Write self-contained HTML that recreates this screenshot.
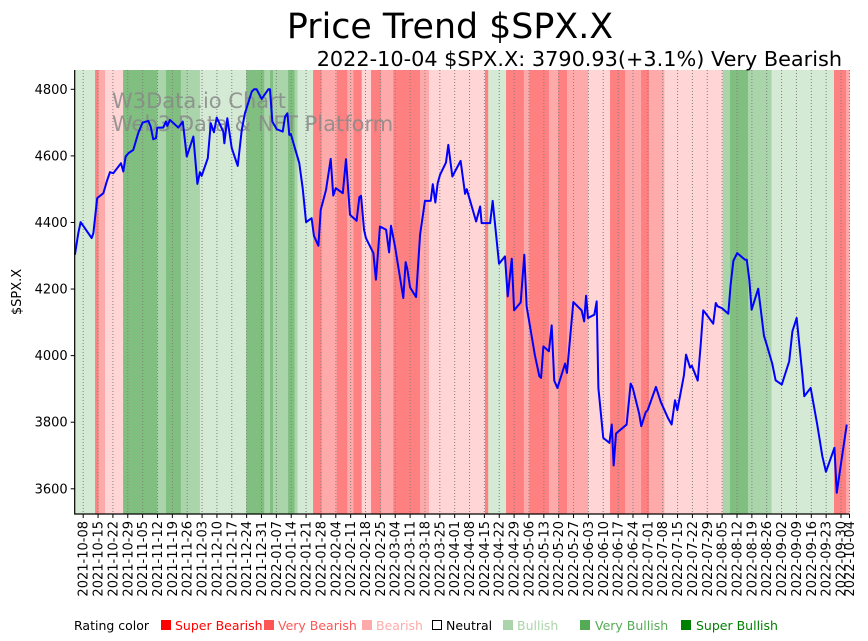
<!DOCTYPE html>
<html><head><meta charset="utf-8"><style>
body{margin:0;background:#fff;}
svg{display:block;font-family:"DejaVu Sans","Liberation Sans",sans-serif;}
</style></head><body>
<svg id="chart" width="868" height="641" viewBox="0 0 868 641" xmlns="http://www.w3.org/2000/svg">
<g id="bands"></g>
<g id="grid"></g>
<text x="112" y="108" font-size="21" fill="#888" fill-opacity="0.85">W3Data.io Chart</text>
<text x="112" y="131" font-size="21" fill="#888" fill-opacity="0.85">Web3 Data &amp; NFT Platform</text>
<path id="line" fill="none" stroke="#0000ff" stroke-width="2" stroke-linejoin="round"/>
<g id="axes"></g>
<text x="450" y="38" font-size="34.8" text-anchor="middle">Price Trend $SPX.X</text>
<text x="842" y="66" font-size="20.8" text-anchor="end">2022-10-04 $SPX.X: 3790.93(+3.1%) Very Bearish</text>
<text transform="translate(21,292) rotate(-90)" font-size="13" text-anchor="middle">$SPX.X</text>
<g id="legend" font-size="12.5">
<text x="74" y="630">Rating color</text>
<g><rect x="161" y="620" width="10" height="10" fill="#ff0000"/><text x="175" y="630" fill="#ff0000">Super Bearish</text></g>
<g><rect x="264" y="620" width="10" height="10" fill="#ff5555"/><text x="278" y="630" fill="#ff5555">Very Bearish</text></g>
<g><rect x="362" y="620" width="10" height="10" fill="#ffaaaa"/><text x="376" y="630" fill="#ffaaaa">Bearish</text></g>
<g><rect x="432.5" y="620.5" width="9" height="9" fill="none" stroke="#000"/><text x="446" y="630" fill="#000">Neutral</text></g>
<g><rect x="503" y="620" width="10" height="10" fill="#aad4aa"/><text x="517" y="630" fill="#aad4aa">Bullish</text></g>
<g><rect x="580" y="620" width="10" height="10" fill="#55aa55"/><text x="595" y="630" fill="#55aa55">Very Bullish</text></g>
<g><rect x="681" y="620" width="10" height="10" fill="#008000"/><text x="696" y="630" fill="#008000">Super Bullish</text></g>
</g>
</svg>
<script>
// days since 2021-10-04
const bandStarts = [0,9.6,11.2,14.3,22.8,38.9,43,50,59,80.8,89.3,92,93.4,100.5,103.6,105,112.3,116.3,123.4,128.4,131.3,135.2,139.6,144.2,150.1,162.7,166.9,193.3,194.8,203.2,211.6,214.2,223.4,227.8,231.9,241.9,252.2,259.3,266.8,270.6,277.8,305.3,308.7,317.2,328.3,357.7,363.4];
const bandRatings = [1,-3,-2,-1,3,2,3,2,1,3,2,3,2,3,2,1,-3,-2,-3,-2,-3,-1,-3,-2,-3,-2,-1,-3,1,-3,-2,-3,-2,-3,-2,-1,-3,-2,-3,-2,-1,2,3,2,1,-3,-2];
const priceDays = [0.1,1.7,2.8,8.0,8.8,10.6,13.5,15.1,16.6,18.2,21.8,22.9,24.0,25.3,27.6,30.0,32.0,34.7,35.8,37.0,38.3,38.9,41.7,43.0,43.6,44.9,48.8,50.9,52.8,55.9,57.8,59.0,59.8,62.7,64.1,65.6,66.9,70.0,70.5,71.9,74.0,76.8,78.7,80.2,83.4,84.5,85.7,88.1,91.2,92.0,93.1,95.2,98.0,99.1,100.2,101.1,101.8,105.8,107.4,109.0,111.6,112.7,114.8,115.9,118.4,120.6,121.8,123.0,126.3,127.8,129.7,132.8,134.1,134.9,136.3,137.2,140.7,141.9,143.8,146.7,148.1,149.0,150.9,154.8,155.9,156.7,158.0,160.8,162.7,165.0,167.7,168.7,169.9,171.0,172.1,174.9,176.0,177.9,181.8,183.9,184.7,189.1,191.0,191.7,195.7,196.9,199.9,202.7,204.0,205.9,207.0,210.1,211.8,212.9,216.8,218.9,219.7,220.8,223.4,224.7,225.9,227.4,231.0,231.9,234.9,238.8,240.0,240.9,241.8,244.8,245.9,246.7,249.0,251.9,253.0,253.9,255.0,260.0,261.9,262.9,265.9,266.9,269.0,269.9,273.8,276.1,279.6,281.2,282.8,283.9,287.0,288.0,289.9,290.7,293.5,294.9,296.1,297.7,300.8,302.0,302.9,304.8,307.9,309.0,310.3,312.1,315.8,316.6,317.8,318.9,322.0,324.7,326.0,328.6,330.2,333.1,336.6,338.1,340.1,342.8,343.7,346.7,349.8,352.2,353.9,357.9,359.0,361.0,363.7,364.9];
const priceValues = [4303,4368,4401,4353,4368,4473,4488,4523,4551,4548,4578,4553,4598,4608,4618,4670,4700,4705,4688,4650,4653,4685,4685,4703,4690,4708,4685,4703,4598,4658,4516,4551,4540,4593,4698,4671,4715,4673,4638,4713,4623,4570,4678,4728,4793,4800,4800,4771,4800,4800,4703,4680,4673,4718,4728,4663,4666,4578,4503,4401,4413,4360,4330,4438,4498,4591,4481,4503,4488,4590,4423,4405,4476,4480,4378,4353,4308,4228,4388,4378,4310,4390,4328,4173,4281,4260,4205,4176,4363,4465,4465,4515,4460,4518,4543,4580,4633,4538,4585,4486,4500,4403,4448,4398,4398,4465,4276,4298,4178,4291,4136,4160,4303,4148,4001,3938,3933,4028,4013,4091,3925,3903,3976,3948,4161,4136,4103,4180,4113,4123,4163,3903,3753,3738,3793,3670,3766,3793,3916,3903,3826,3788,3830,3836,3906,3861,3811,3793,3866,3836,3941,4003,3964,3970,3925,4033,4136,4123,4096,4158,4148,4143,4126,4213,4285,4308,4288,4288,4228,4138,4201,4060,4033,3976,3926,3913,3983,4073,4113,3943,3878,3903,3793,3698,3651,3723,3588,3676,3793];
const yTicks = [3600,3800,4000,4200,4400,4600,4800];
const xTickLabels = ["2021-10-08","2021-10-15","2021-10-22","2021-10-29","2021-11-05","2021-11-12","2021-11-19","2021-11-26","2021-12-03","2021-12-10","2021-12-17","2021-12-24","2021-12-31","2022-01-07","2022-01-14","2022-01-21","2022-01-28","2022-02-04","2022-02-11","2022-02-18","2022-02-25","2022-03-04","2022-03-11","2022-03-18","2022-03-25","2022-04-01","2022-04-08","2022-04-15","2022-04-22","2022-04-29","2022-05-06","2022-05-13","2022-05-20","2022-05-27","2022-06-03","2022-06-10","2022-06-17","2022-06-24","2022-07-01","2022-07-08","2022-07-15","2022-07-22","2022-07-29","2022-08-05","2022-08-12","2022-08-19","2022-08-26","2022-09-02","2022-09-09","2022-09-16","2022-09-23","2022-09-30","2022-10-04"];

const NS="http://www.w3.org/2000/svg";
const X0=74.7,X1=849.5,Y0=70,Y1=514,DMAX=365;
const base=Date.UTC(2021,9,4);
function xs(d){return X0+d*(X1-X0)/DMAX;}
function ys(v){return 89.3+(4800-v)*(399.5/1200);}
function dayOf(s){const p=s.split('-');return (Date.UTC(+p[0],+p[1]-1,+p[2])-base)/86400000;}
const colors={"-3":"#ff8080","-2":"#ffaaaa","-1":"#ffd5d5","0":"#ffffff","1":"#d5ead5","2":"#aad4aa","3":"#80bf80"};
const bands=document.getElementById('bands');
for(let i=0;i<bandStarts.length;i++){
  const s=bandStarts[i],e=i+1<bandStarts.length?bandStarts[i+1]:DMAX;
  const r=document.createElementNS(NS,'rect');
  r.setAttribute('x',xs(s));r.setAttribute('y',Y0);
  r.setAttribute('width',xs(e)-xs(s)+0.3);r.setAttribute('height',Y1-Y0);
  r.setAttribute('fill',colors[bandRatings[i]]);
  
  
  bands.appendChild(r);
}
const grid=document.getElementById('grid'),axes=document.getElementById('axes');
xTickLabels.forEach(lbl=>{
  const x=xs(dayOf(lbl));
  const l=document.createElementNS(NS,'line');
  l.setAttribute('x1',x);l.setAttribute('x2',x);l.setAttribute('y1',Y0);l.setAttribute('y2',Y1);
  l.setAttribute('stroke','#808080');l.setAttribute('stroke-width','1');l.setAttribute('stroke-dasharray','1,2');
  
  
  grid.appendChild(l);
  const t=document.createElementNS(NS,'line');
  t.setAttribute('x1',x);t.setAttribute('x2',x);t.setAttribute('y1',Y1);t.setAttribute('y2',Y1+4);t.setAttribute('stroke','#000');
  
  
  axes.appendChild(t);
  const tx=document.createElementNS(NS,'text');
  tx.setAttribute('transform','translate('+(x+4.5)+','+(Y1+7)+') rotate(-90)');
  tx.setAttribute('text-anchor','end');tx.setAttribute('font-size','13');
  tx.textContent=lbl;
  
  
  axes.appendChild(tx);
});
yTicks.forEach(v=>{
  const y=ys(v);
  const t=document.createElementNS(NS,'line');
  t.setAttribute('x1',X0-4);t.setAttribute('x2',X0);t.setAttribute('y1',y);t.setAttribute('y2',y);t.setAttribute('stroke','#000');
  
  
  axes.appendChild(t);
  const tx=document.createElementNS(NS,'text');
  tx.setAttribute('x',X0-7);tx.setAttribute('y',y+4.5);tx.setAttribute('text-anchor','end');tx.setAttribute('font-size','13');
  tx.textContent=v;
  
  
  axes.appendChild(tx);
});
const sp=document.createElementNS(NS,'path');
sp.setAttribute('d','M'+X0+','+Y0+'V'+Y1+'H'+X1);
sp.setAttribute('fill','none');sp.setAttribute('stroke','#000');sp.setAttribute('stroke-width','1.2');


axes.appendChild(sp);
let d='';
priceDays.forEach((dd,i)=>{d+=(i?'L':'M')+xs(dd).toFixed(2)+','+ys(priceValues[i]).toFixed(2);});
document.getElementById('line').setAttribute('d',d);
</script>
</body></html>
